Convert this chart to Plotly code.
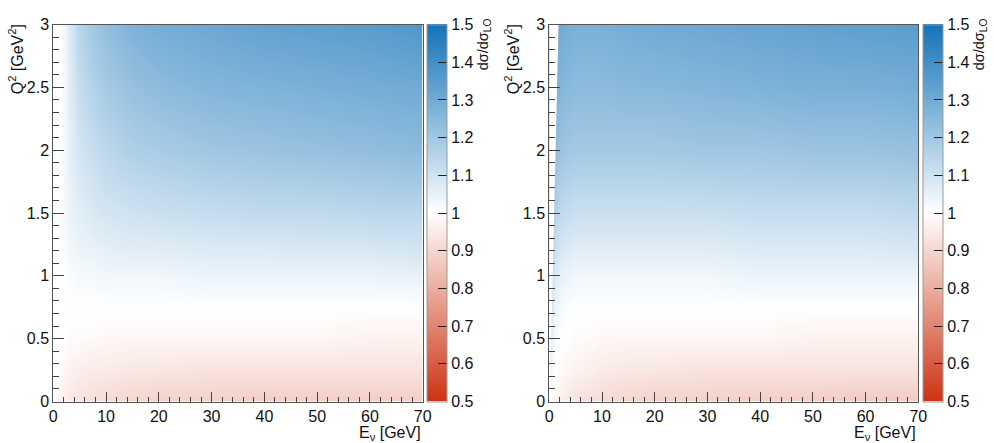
import plotly.graph_objects as go

# ---- data ----
E_nodes = [0, 0.5, 1, 2, 3, 5, 7.5, 10, 15, 20, 30, 40, 50, 60, 70]
Q2_nodes = [0, 0.25, 0.5, 0.75, 1.0, 1.25, 1.5, 2.0, 2.5, 3.0]

ratio_left = [
    [1.00, 0.99, 0.98, 0.96, 0.94, 0.93, 0.92, 0.91, 0.90, 0.89, 0.89, 0.88, 0.88, 0.88, 0.88],
    [1.00, 1.00, 0.99, 0.98, 0.97, 0.96, 0.95, 0.95, 0.94, 0.94, 0.93, 0.93, 0.93, 0.93, 0.93],
    [1.00, 1.00, 1.00, 1.00, 0.99, 0.99, 0.99, 0.98, 0.98, 0.98, 0.98, 0.98, 0.98, 0.97, 0.97],
    [1.00, 1.00, 1.00, 1.00, 1.00, 1.00, 1.00, 1.00, 1.00, 1.00, 1.00, 1.00, 1.00, 1.00, 1.00],
    [1.00, 1.00, 1.00, 1.00, 1.01, 1.02, 1.02, 1.03, 1.03, 1.03, 1.04, 1.04, 1.04, 1.04, 1.05],
    [1.00, 1.00, 1.00, 1.01, 1.03, 1.04, 1.05, 1.06, 1.07, 1.07, 1.08, 1.08, 1.09, 1.09, 1.10],
    [1.00, 1.00, 1.00, 1.02, 1.04, 1.06, 1.08, 1.09, 1.10, 1.11, 1.12, 1.13, 1.13, 1.14, 1.14],
    [1.00, 1.00, 1.00, 1.02, 1.05, 1.09, 1.12, 1.14, 1.17, 1.18, 1.20, 1.21, 1.22, 1.23, 1.24],
    [1.00, 1.00, 1.00, 1.02, 1.06, 1.12, 1.16, 1.19, 1.22, 1.24, 1.26, 1.27, 1.28, 1.29, 1.30],
    [1.00, 1.00, 1.00, 1.02, 1.07, 1.15, 1.20, 1.23, 1.27, 1.29, 1.31, 1.33, 1.34, 1.35, 1.37],
]

ratio_right = [
    [1.00, 0.99, 0.98, 0.96, 0.95, 0.93, 0.92, 0.91, 0.90, 0.89, 0.89, 0.88, 0.88, 0.87, 0.87],
    [1.04, 1.01, 1.00, 0.99, 0.98, 0.97, 0.96, 0.95, 0.94, 0.94, 0.93, 0.93, 0.93, 0.93, 0.93],
    [1.08, 1.05, 1.02, 1.00, 1.00, 0.99, 0.99, 0.98, 0.98, 0.98, 0.98, 0.98, 0.97, 0.97, 0.97],
    [1.10, 1.08, 1.04, 1.02, 1.01, 1.00, 1.00, 1.00, 1.00, 1.00, 1.00, 1.00, 1.00, 1.00, 1.00],
    [1.13, 1.12, 1.08, 1.05, 1.04, 1.03, 1.03, 1.03, 1.03, 1.03, 1.03, 1.04, 1.04, 1.04, 1.04],
    [1.16, 1.15, 1.12, 1.09, 1.08, 1.07, 1.07, 1.07, 1.07, 1.07, 1.07, 1.08, 1.08, 1.08, 1.09],
    [1.19, 1.18, 1.16, 1.13, 1.12, 1.11, 1.11, 1.11, 1.11, 1.11, 1.11, 1.12, 1.12, 1.12, 1.13],
    [1.24, 1.24, 1.23, 1.21, 1.20, 1.19, 1.19, 1.19, 1.19, 1.19, 1.20, 1.20, 1.21, 1.21, 1.22],
    [1.28, 1.28, 1.27, 1.26, 1.25, 1.24, 1.24, 1.24, 1.25, 1.25, 1.26, 1.27, 1.28, 1.28, 1.29],
    [1.30, 1.30, 1.30, 1.30, 1.29, 1.28, 1.28, 1.28, 1.29, 1.30, 1.31, 1.32, 1.33, 1.34, 1.35],
]

# kinematic threshold (empty bins at low E)
thr_Q2 = [0, 0.5, 1.0, 1.5, 2.0, 2.5, 3.0]
thr_E = [0, 0.35, 0.65, 0.9, 1.2, 1.5, 1.75]

x_ticks = [0, 10, 20, 30, 40, 50, 60, 70]
y_ticks = [0, 0.5, 1, 1.5, 2, 2.5, 3]
cb_ticks = [0.5, 0.6, 0.7, 0.8, 0.9, 1.0, 1.1, 1.2, 1.3, 1.4, 1.5]

# ---- styling ----
W, H = 994, 443
FONT = "Liberation Sans, Arial, Helvetica, sans-serif"
colorscale = [[0.0, "rgb(204,52,20)"], [0.5, "rgb(255,255,255)"], [1.0, "rgb(18,114,184)"]]

left_px = [53.3, 422.7]
right_px = [549.3, 918.3]
top_px, bot_px = 24.5, 401.5
ydom = [(H - bot_px) / H, (H - top_px) / H]
cb_len = bot_px - top_px

fig = go.Figure()

def add_panel(z, xaxis, yaxis, cb_x_px):
    fig.add_trace(go.Heatmap(
        x=E_nodes, y=Q2_nodes, z=z, zmin=0.5, zmax=1.5, zsmooth="best",
        colorscale=colorscale, xaxis=xaxis, yaxis=yaxis,
        colorbar=dict(
            x=cb_x_px / W, xanchor="left", xpad=0, y=ydom[0], yanchor="bottom", ypad=0,
            len=cb_len, lenmode="pixels", thickness=20, thicknessmode="pixels",
            tickvals=cb_ticks, ticktext=[("%g" % v) for v in cb_ticks],
            ticks="inside", ticklen=9, tickcolor="#222", tickwidth=1,
            outlinewidth=1, outlinecolor="#999",
            tickfont=dict(family=FONT, size=16, color="#111"),
        ),
    ))
    poly_x = thr_E + [0, 0]
    poly_y = thr_Q2 + [3, 0]
    fig.add_trace(go.Scatter(
        x=poly_x, y=poly_y, fill="toself", fillcolor="white", mode="lines",
        line=dict(width=0, color="white"), xaxis=xaxis, yaxis=yaxis,
        hoverinfo="skip", showlegend=False,
    ))

add_panel(ratio_left, "x", "y", 427.3)
add_panel(ratio_right, "x2", "y2", 923.3)

axis_common = dict(
    showline=True, linecolor="#555", linewidth=1, mirror=True,
    ticks="inside", tickcolor="#444", tickwidth=1, showgrid=False, zeroline=False,
    tickfont=dict(family=FONT, size=16, color="#111"),
)
xax = dict(axis_common, range=[0, 70], tickvals=x_ticks, ticklen=10,
           minor=dict(dtick=2, tick0=0, ticks="inside", ticklen=5, tickcolor="#444"))
yax = dict(axis_common, range=[0, 3], tickvals=y_ticks, ticktext=[("%g" % v) for v in y_ticks],
           ticklen=11, minor=dict(dtick=0.1, tick0=0, ticks="inside", ticklen=6, tickcolor="#444"))

fig.update_layout(
    width=W, height=H, margin=dict(l=0, r=0, t=0, b=0, autoexpand=False),
    paper_bgcolor="white", plot_bgcolor="white", showlegend=False,
    xaxis=dict(xax, domain=[left_px[0] / W, left_px[1] / W], anchor="y"),
    yaxis=dict(yax, domain=ydom, anchor="x"),
    xaxis2=dict(xax, domain=[right_px[0] / W, right_px[1] / W], anchor="y2"),
    yaxis2=dict(yax, domain=ydom, anchor="x2"),
)

annots = []
for lp, cbx in [(left_px, 427.3), (right_px, 923.3)]:
    annots.append(dict(text="E<sub>ν</sub> [GeV]", x=lp[1] / W, y=(H - 433) / H,
                       xref="paper", yref="paper", xanchor="right", yanchor="middle",
                       showarrow=False, font=dict(family=FONT, size=16, color="#111")))
    annots.append(dict(text="Q<sup>2</sup> [GeV<sup>2</sup>]", x=(lp[0] - 37) / W, y=(H - 22) / H,
                       xref="paper", yref="paper", xanchor="center", yanchor="top",
                       textangle=-90, showarrow=False,
                       font=dict(family=FONT, size=16, color="#111")))
    annots.append(dict(text="dσ/dσ<sub>LO</sub>", x=(cbx + 57) / W, y=(H - 16) / H,
                       xref="paper", yref="paper", xanchor="center", yanchor="top",
                       textangle=-90, showarrow=False,
                       font=dict(family=FONT, size=14.5, color="#111")))
fig.update_layout(annotations=annots)

fig.write_html("out.html")
